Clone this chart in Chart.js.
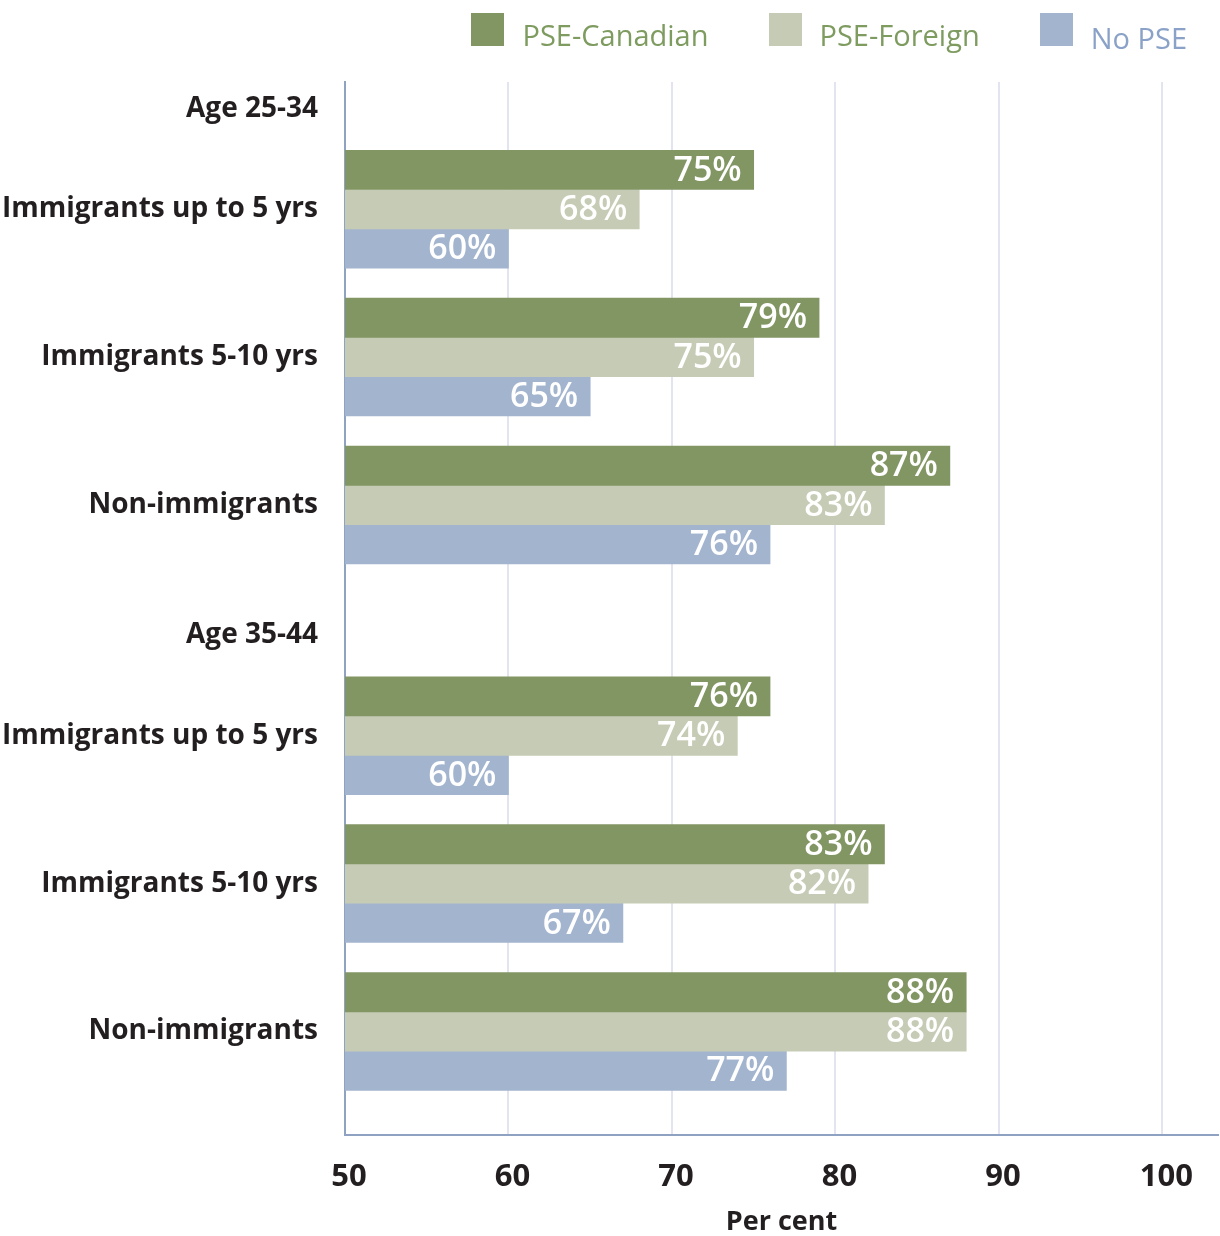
<!DOCTYPE html>
<html>
<head>
<meta charset="utf-8">
<script src="https://cdn.jsdelivr.net/npm/chart.js@4.4.1/dist/chart.umd.min.js"></script>
<style>
  html, body { margin: 0; padding: 0; background: #ffffff; }
  #wrap { position: relative; width: 1220px; height: 1236px; }
  #legend {
    position: absolute; top: 0; right: 33px; height: 58px;
    display: flex; align-items: center; gap: 60px;
    font-family: "Open Sans", "Noto Sans", sans-serif; font-size: 29px;
  }
  .item { display: flex; align-items: center; gap: 18px; }
  .box { width: 33px; height: 33px; }
  .item span { padding-top: 10px; }
</style>
</head>
<body>
<div id="wrap">
  <canvas id="chart" width="1220" height="1236"></canvas>
  <div id="legend"></div>
</div>
<script>
// Row labels down the vertical axis (age headers carry no bars)
const categories = [
  'Age 25-34', 'Immigrants up to 5 yrs', 'Immigrants 5-10 yrs', 'Non-immigrants',
  'Age 35-44', 'Immigrants up to 5 yrs', 'Immigrants 5-10 yrs', 'Non-immigrants'
];
const seriesNames = ['PSE-Canadian', 'PSE-Foreign', 'No PSE'];
const pseCanadian = [null, 75, 79, 87, null, 76, 83, 88];
const pseForeign  = [null, 68, 75, 83, null, 74, 82, 88];
const noPSE       = [null, 60, 65, 76, null, 60, 67, 77];
const xTicks = [50, 60, 70, 80, 90, 100];

// Layout: where each row sits on the vertical axis (headers are tighter)
const rowPos = [0.18, 0.86, 1.86, 2.86, 3.74, 4.42, 5.42, 6.42];
const rowMax = 7.12;
const barColors = ['#829664', '#c6cbb5', '#a3b4cf'];
const legendText = ['#7e9b60', '#7e9b60', '#8ba2c8'];
const FONT = '"Open Sans", "Noto Sans", sans-serif';

function toPoints(values) {
  return values.map((v, i) => (v == null ? null : { x: v, y: rowPos[i] }))
               .filter(p => p !== null);
}

const seriesValues = [pseCanadian, pseForeign, noPSE];
const datasets = seriesValues.map((vals, k) => ({
  label: seriesNames[k],
  data: toPoints(vals),
  backgroundColor: barColors[k],
  borderWidth: 0,
  barThickness: 39.3
}));

// White percentage labels inside the end of each bar
const barValueLabels = {
  id: 'barValueLabels',
  afterDatasetsDraw(chart) {
    const ctx = chart.ctx;
    ctx.save();
    ctx.font = '600 34px ' + FONT;
    ctx.fillStyle = '#ffffff';
    ctx.textAlign = 'right';
    ctx.textBaseline = 'middle';
    chart.data.datasets.forEach((ds, di) => {
      const meta = chart.getDatasetMeta(di);
      meta.data.forEach((bar, i) => {
        ctx.fillText(ds.data[i].x + '%', bar.x - 12, bar.y + 1);
      });
    });
    ctx.restore();
  }
};

const chart = new Chart(document.getElementById('chart'), {
  type: 'bar',
  data: { datasets },
  plugins: [barValueLabels],
  options: {
    indexAxis: 'y',
    responsive: false,
    animation: false,
    layout: { padding: { top: 82, right: 2, left: 0, bottom: 0 } },
    plugins: {
      legend: { display: false },
      tooltip: { enabled: false }
    },
    scales: {
      x: {
        type: 'linear',
        min: 50,
        max: 103.4,
        afterBuildTicks(scale) { scale.ticks = xTicks.map(v => ({ value: v })); },
        ticks: {
          includeBounds: false,
          padding: 27,
          labelOffset: 4,
          color: '#231f20',
          font: { family: FONT, size: 31, weight: 'bold', lineHeight: 1 }
        },
        grid: { color: '#e2e5ef', lineWidth: 2, drawTicks: false },
        border: { display: true, color: '#8fa2c2', width: 2 },
        title: {
          display: true,
          text: 'Per cent',
          color: '#231f20',
          padding: { top: 0, bottom: 0 },
          font: { family: FONT, size: 27, weight: 'bold', lineHeight: 1 }
        },
        afterFit(scale) { scale.height = 101; }
      },
      y: {
        type: 'linear',
        reverse: true,
        offset: false,
        min: 0,
        max: rowMax,
        afterBuildTicks(scale) { scale.ticks = rowPos.map(v => ({ value: v })); },
        ticks: {
          autoSkip: false,
          padding: 27,
          color: '#231f20',
          font: { family: FONT, size: 28, weight: 'bold' },
          callback: (value, index) => categories[index]
        },
        grid: { display: false, drawTicks: false, offset: false },
        border: { display: true, color: '#8fa2c2', width: 2 },
        afterFit(scale) { scale.width = 345; }
      }
    }
  }
});

// Legend row built from the chart's datasets
const legendEl = document.getElementById('legend');
chart.data.datasets.forEach((ds, k) => {
  const item = document.createElement('div');
  item.className = 'item';
  const box = document.createElement('div');
  box.className = 'box';
  box.style.background = ds.backgroundColor;
  const txt = document.createElement('span');
  txt.textContent = ds.label;
  txt.style.color = legendText[k];
  if (k === 2) txt.style.paddingTop = '16px';
  item.appendChild(box);
  item.appendChild(txt);
  legendEl.appendChild(item);
});
</script>
</body>
</html>
